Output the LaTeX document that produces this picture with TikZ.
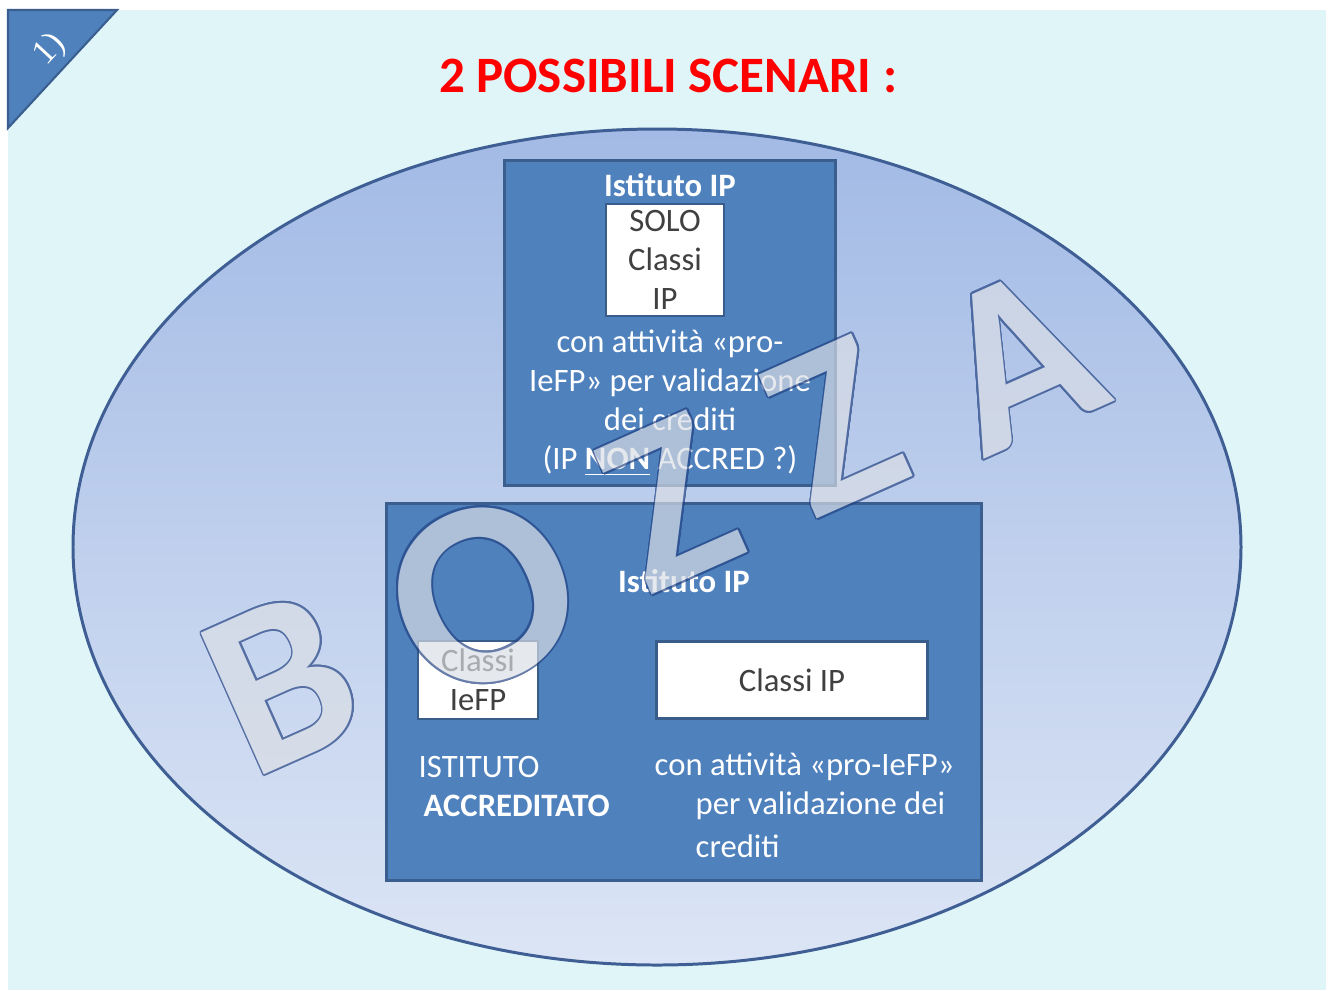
\documentclass[tikz,border=0pt]{standalone}
\usepackage{fontspec}
\setmainfont{Carlito}
\newfontfamily\numfont{Liberation Serif}
\usepackage{contour}
\contourlength{0.5pt}
\contournumber{16}
\usetikzlibrary{positioning}
\definecolor{panelcyan}{HTML}{E0F5F8}
\definecolor{boxblue}{HTML}{4F81BD}
\definecolor{boxedge}{HTML}{3A5F8F}
\definecolor{ringedge}{HTML}{3E5E94}
\definecolor{ringtop}{HTML}{A2BAE5}
\definecolor{ringbottom}{HTML}{DCE5F5}
\definecolor{classedge}{HTML}{385D8A}
\definecolor{textgray}{HTML}{404040}
\definecolor{wmfill}{HTML}{DADEE5}
\definecolor{wmedge}{HTML}{1F3F80}
\tikzset{
  box/.style={draw=boxedge, line width=0.85pt, fill=boxblue, inner sep=0pt},
  classbox/.style={draw=classedge, line width=0.75pt, fill=white, inner sep=0pt,
    text=textgray, align=center, font=\fontsize{9.3}{11.1}\selectfont},
  wtext/.style={text=white, inner sep=0pt, align=center, font=\fontsize{9.3}{11.1}\selectfont},
  wbold/.style={wtext, font=\fontsize{9.3}{11.1}\selectfont\bfseries},
  wmletter/.style={text=wmfill, rotate=24, inner sep=0pt,
    font=\fontsize{68}{68}\selectfont\bfseries}
}
\newcommand{\wm}[1]{\contour{wmedge}{#1}}
\begin{document}
\begin{tikzpicture}[x=0.01cm, y=-0.01cm]
  \useasboundingbox (0,0) rectangle (1333,990);
  \fill[white] (0,0) rectangle (1333,990);
  \fill[panelcyan] (8,10) rectangle (1326,990);
  \coordinate (T1) at (8,10);
  \coordinate (T2) at (117,10);
  \coordinate (T3) at (8,128);
  \filldraw[fill=boxblue, draw=boxedge, line width=0.6pt] (T1) -- (T2) -- (T3) -- cycle;
  \node[text=white, rotate=47, inner sep=0pt, font=\numfont\fontsize{10}{10}\selectfont] (num) at (50,50) {1)};
  \node[text=red, inner sep=0pt, font=\fontsize{14.5}{14.5}\selectfont\bfseries] (title) at (668,76) {2 POSSIBILI SCENARI :};
  \draw[draw=ringedge, line width=0.85pt, top color=ringtop, bottom color=ringbottom]
    (657,547) ellipse [x radius=584, y radius=418];
  \coordinate (outer) at (657,547);

  \node[box, minimum width=3.3cm, minimum height=3.24cm] (topbox) at (670,323) {};
  \node[wbold] (tophead) at (670,185) {Istituto IP};
  \node[classbox, minimum width=1.18cm, minimum height=1.12cm] (soloIP) at (665,260) {SOLO\\Classi\\IP};
  \node[wtext] (topnote) at (670,403) {con attività «pro-\\IeFP» per validazione\\dei crediti\\(IP \underline{\textbf{NON}} ACCRED ?)};

  \node[box, minimum width=5.94cm, minimum height=3.77cm] (botbox) at (684,692) {};
  \node[wbold] (bothead) at (684,581) {Istituto IP};
  \node[classbox, minimum width=1.2cm, minimum height=0.78cm] (iefp) at (478,680) {Classi\\IeFP};
  \node[classbox, minimum width=2.71cm, minimum height=0.77cm] (classIP) at (792,680) {Classi IP};
  \node[wtext, anchor=west] (istituto) at (418,767) {ISTITUTO};
  \node[wbold, anchor=west] (accred) at (423,806) {ACCREDITATO};
  \node[wtext, anchor=west] (rtxt1) at (654,767) {con attività «pro-IeFP»};
  \node[wtext, anchor=west] (rtxt2) at (695,806) {per validazione dei};
  \node[wtext, anchor=west] (rtxt3) at (695,846) {crediti};

  \begin{scope}[transparency group, opacity=0.68]
    \node[wmletter] (wmB) at (282,683) {\wm{B}};
    \node[wmletter, scale=1.1] (wmO) at (483,596) {\wm{O}};
    \node[wmletter] (wmZa) at (670,503) {\wm{Z}};
    \node[wmletter] (wmZb) at (835,427) {\wm{Z}};
    \node[wmletter] (wmA) at (1018,360) {\wm{A}};
  \end{scope}
\end{tikzpicture}
\end{document}
